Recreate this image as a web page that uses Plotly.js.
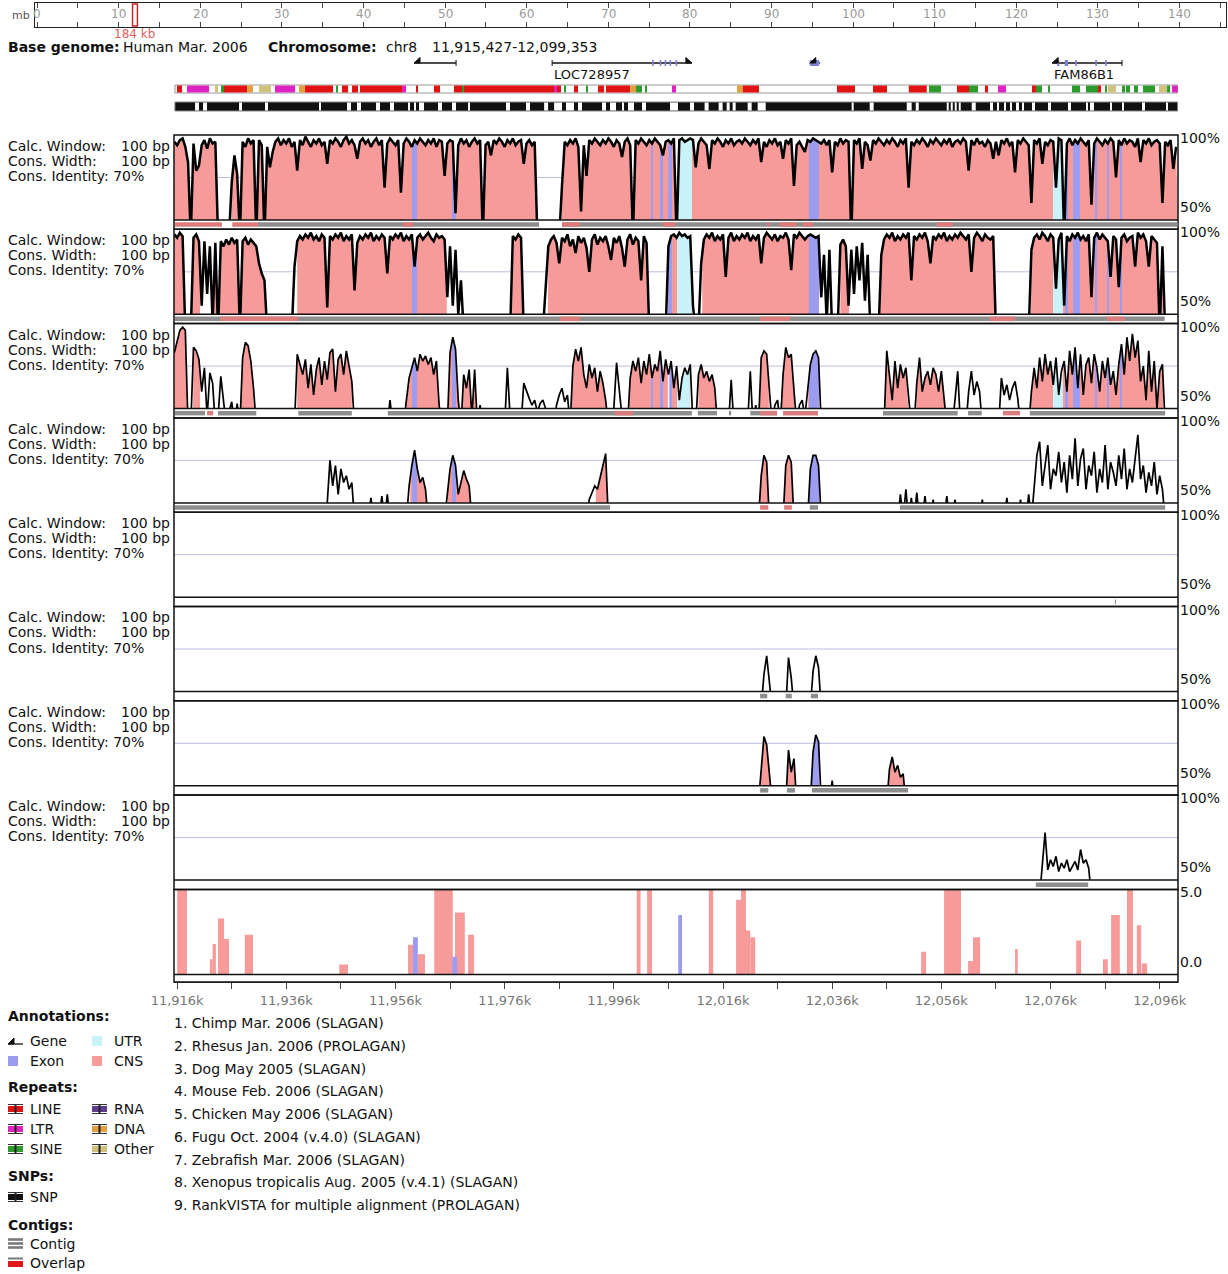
<!DOCTYPE html>
<html><head><meta charset="utf-8">
<script src="https://cdn.plot.ly/plotly-3.0.1.min.js"></script>
<style>html,body{margin:0;padding:0;background:#fff;}#chart{width:1228px;height:1274px;}</style>
</head><body><div id="chart"></div>
<script>
// ===================== DATA =====================
const regionStartKb = 11915.427, regionEndKb = 12099.353;
const gridStep = 0.5;      // kb between conservation samples
const BELOW = 40;          // conservation below the 50% floor

// conservation runs: [startKb, values every 0.5 kb]
const cons1 = [[11915.5, [
96,94,97,98,93,84,40,95,79,82, 94,97,92,98,95,96,40,40,40,40,
40,72,88,77,40,96,93,98,95,97, 40,97,94,40,93,81,90,96,98,94,
97,95,98,93,96,79,97,94,99,96, 93,97,95,98,94,96,83,97,95,98,
96,93,97,99,95,97,94,86,96,98, 95,97,93,96,98,94,97,69,95,98,
96,94,97,66,95,98,96,93,97,95, 98,96,94,97,95,98,93,97,96,76,
95,97,96,54,94,98,95,97,93,96, 98,95,97,40,94,96,88,97,95,98,
96,93,97,95,98,94,96,97,83,95, 97,94,96,40,40,40,40,40,40,40,
40,40,70,96,94,97,95,98,93,55, 94,76,97,95,98,96,94,97,95,98,
96,93,97,95,87,96,98,94,40,97, 95,98,96,94,97,95,98,96,94,88,
96,97,95,98,40,97,98,96,97,98, 97,81,95,98,96,94,80,97,95,98,
96,93,97,95,98,94,96,97,95,98, 96,94,97,95,98,84,96,93,97,95,
98,94,96,86,97,95,98,70,94,96, 93,90,97,96,98,97,96,95,97,94,
97,78,96,94,98,95,97,96,40,97, 95,98,80,96,94,85,97,95,98,96,
94,97,95,98,96,93,97,95,98,69, 96,94,97,95,98,96,93,97,95,98,
96,94,97,95,98,93,96,97,95,98, 96,79,97,94,98,95,96,93,97,95,
86,96,88,97,95,98,94,96,78,97, 95,98,96,94,60,97,95,98,83,96,
94,97,96,69,98,97,40,95,98,94, 97,95,98,96,94,97,59,95,98,96,
94,97,95,98,96,75,97,94,98,95, 97,96,93,98,84,97,95,98,94,96,
97,95,60,96,94,97,80,93]]];

const cons2 = [[11915.5, [
97,95,98,96,40,40,40,95,97,93, 55,93,62,90,45,92,40,93,90,94,
91,95,92,94,40,93,95,91,94,92, 90,80,74,70,40,40,40,40,40,40,
40,40,40,40,78,93,96,94,97,95, 98,94,96,93,97,95,54,96,94,97,
95,98,93,96,94,97,64,92,96,94, 97,95,98,93,96,94,97,95,74,96,
94,97,95,98,93,96,94,97,78,95, 97,94,96,98,95,93,97,95,96,94,
60,90,55,88,50,70,40,40,40,40, 40,40,40,40,40,40,40,40,40,40,
40,40,40,40,96,94,97,95,40,40, 40,40,40,40,40,40,65,90,94,96,
92,80,95,93,97,90,94,86,96,92, 95,89,75,94,97,91,95,93,96,90,
82,95,92,96,89,78,94,97,91,95, 93,70,96,92,40,40,40,40,40,40,
40,90,96,97,95,98,96,97,95,96, 55,40,40,80,94,97,95,98,93,96,
94,97,72,95,98,93,96,94,97,95, 98,93,96,94,97,80,95,98,96,94,
97,93,96,95,98,94,76,97,95,98, 96,94,96,97,96,95,96,60,85,45,
88,40,40,40,91,94,90,55,88,62, 90,70,92,58,85,40,40,40,40,85,
94,97,95,98,93,96,94,97,95,98, 70,96,94,97,95,98,93,80,96,94,
97,95,98,93,96,94,97,95,98,96, 94,97,75,95,98,96,93,97,95,94,
96,40,40,40,40,40,40,40,40,40, 40,40,40,40,88,95,97,94,98,96,
93,97,95,65,94,98,55,96,93,97, 95,98,94,96,93,97,60,95,98,94,
97,95,93,72,96,94,66,95,97,93, 95,96,78,98,95,97,93,78,96,94,
92,40,90,40,40,40,40,40]]];

const cons3 = [[11915.5, [
83,90,96,98,96,40,40,86,84,79, 60,74,45,71,65,40,45,69,52,40,
48,54,40,53,40,80,89,87,78,62, 40,40,40,40,40,40,40,40,40,40,
40,40,40,40,40,82,76,70,79,62, 76,58,73,80,64,78,67,83,85,60,
79,82,70,84,75,66,40,40,40,40, 40,40,40,40,40,40,40,40,40,55,
40,40,40,40,40,55,68,74,80,72, 82,78,81,76,80,70,78,52,40,40,
40,83,92,85,55,40,70,62,73,45, 73,40,52,40,40,40,40,40,40,40,
40,40,74,45,40,40,40,40,65,60, 56,52,55,48,53,55,50,40,40,40,
52,58,62,54,58,40,75,85,78,86, 70,62,76,68,74,60,72,65,55,40,
40,50,77,60,45,50,40,68,78,72, 80,65,78,70,82,68,76,72,84,66,
79,70,78,62,75,55,68,74,70,76, 40,40,70,76,68,72,66,70,62,40,
40,40,40,40,67,40,40,40,40,40, 40,72,40,52,40,80,84,82,60,40,
52,55,40,70,86,80,82,62,40,52, 55,45,60,76,82,84,80,40,40,40,
40,40,40,40,40,40,40,40,40,40, 40,40,40,40,40,40,40,40,40,40,
40,84,70,55,78,62,76,68,74,55, 40,40,65,80,60,68,72,64,74,70,
60,72,55,40,40,40,55,72,40,40, 40,60,72,58,66,60,40,40,40,40,
40,40,40,68,58,64,55,62,66,56, 40,40,40,40,60,74,62,80,66,82,
70,78,64,80,58,72,78,60,84,70, 86,62,82,58,76,80,65,82,74,60,
78,68,80,64,72,58,76,88,70,92, 78,94,80,90,66,75,55,84,60,78,
50,72,76,40,40,40,40,40]]];

const cons4 = [
[11943.0, [40,50,75,60,72,55,70,62,66,58,62,40]],
[11951.0, [40,53,40]],
[11953.0, [40,54,40,55,40]],
[11958.0, [40,60,72,81,70,62,65,58,40]],
[11965.0, [40,55,70,78,72,55,62,69,64,60,40]],
[11991.0, [40,52,56,60,58,65,72,79,40]],
[12022.5, [40,66,78,74,40]],
[12027.0, [40,72,78,74,40]],
[12031.5, [40,70,78,78,72,40]],
[12048.0, [40,55,40,58,40,53,40,56,40,40,54,40,40,52,40,40,40,40,54,40,40,52,40]],
[12063.0, [40,52,40]],
[12067.5, [40,53,40]],
[12070.0, [40,52,40,40,55,40]],
[12072.5, [40,62,78,86,60,72,84,58,70,66,80,62,74,56,78,64,88,60,76,82,58,72,66,80,56,70,
           62,84,58,74,68,60,78,64,82,58,70,62,76,90,64,72,56,68,60,74,55,66,58,40]]
];
const cons5 = [];
const cons6 = [
[12023.0, [40,60,71,52,40]],
[12027.5, [40,70,58,40]],
[12032.0, [40,62,71,64,40]]
];
const cons7 = [
[12022.5, [40,62,79,74,55,40]],
[12027.5, [40,71,58,66,40]],
[12032.0, [40,70,80,76,40]],
[12035.5, [40,53,40]],
[12046.0, [40,60,67,58,62,55,57,40]]
];
const cons8 = [
[12074.0, [40,58,78,56,62,58,64,55,60,57,62,55,58,61,56,68,60,62,57,40]]
];

// conserved (coloured) regions per panel, kb
const cns1 = [[11915.4,11924.1],[11926.0,11982.3],[11986.5,12099.4]];
const cns2 = [[11915.4,11917.4],[11918.7,11920.2],[11922.6,11932.5],[11938.0,11965.4],[11977.3,11979.5],
              [11983.9,12002.4],[12005.9,12010.3],[12012.2,12033.6],[12037.5,12039.1],[12044.8,12065.8],[12072.4,12096.6]];
const cns3 = [[11915.4,11917.8],[11918.9,11920.2],[11927.7,11930.1],[11938.0,11948.0],[11957.9,11964.2],
              [11965.8,11967.5],[11967.8,11970.8],[11988.3,11994.9],[11998.6,12005.9],[12006.2,12009.9],
              [12011.5,12015.0],[12022.6,12024.4],[12026.8,12029.0],[12031.6,12033.6],[12045.3,12050.1],[12051.4,12056.9],[12072.2,12096.6]];
const cns4 = [[11958.7,11962.0],[11965.6,11969.8],[11992.7,11995.1],[12022.8,12024.4],[12027.2,12028.8],[12031.6,12033.6]];
const cns5 = [];
const cns6 = [];
const cns7 = [[12022.4,12025.2],[12027.4,12029.6],[12031.6,12033.6],[12045.6,12050.2]];
const cns8 = [];

// gene annotation
const exons = [[11959.03,11959.95],[11966.36,11967.09],[12002.81,12003.18],[12004.46,12005.01],[12005.93,12006.66],
               [12031.74,12033.57],[12078.65,12079.20],[12080.12,12081.40],[12084.15,12084.52],[12086.34,12086.71],[12088.72,12089.09]];
const utrs = [[12007.58,12010.32],[12076.45,12078.28]];
const geneName   = ['', 'LOC728957', '', 'FAM86B1'];
const geneStart  = [11959.4, 11984.7, 12031.9, 12076.3];
const geneEnd    = [11967.1, 12010.3, 12033.8, 12089.1];
const geneStrand = ['-', '+', '-', '-'];
// exon ticks drawn on the gene track: [gene index, start, end]
const geneExons = [[1,12003.0,12003.3],[1,12004.4,12004.7],[1,12005.3,12005.6],[1,12006.2,12006.5],[1,12007.3,12007.6],
                   [2,12031.9,12033.6],
                   [3,12077.2,12077.6],[3,12078.6,12079.2],[3,12080.5,12080.8],[3,12084.2,12084.5],[3,12086.0,12086.3]];

// contigs per panel: [start, end, kind]  g = contig, r = overlap
const contig1 = [[11915.6,11924.2,'r'],[11926.1,11930.8,'r'],[11930.8,11982.3,'g'],[11957.4,11959.3,'r'],
                 [11986.5,12099.3,'g'],[11986.5,11989.8,'r'],[12005.0,12007.2,'r'],[12024.1,12024.6,'r'],
                 [12026.4,12029.5,'r'],[12030.7,12032.5,'r'],[12055.2,12058.1,'r']];
const contig2 = [[11915.6,12096.9,'g'],[11923.9,11938.2,'r'],[11986.1,11989.8,'r'],[12022.8,12028.3,'r'],
                 [12064.9,12069.5,'r'],[12086.3,12089.6,'r']];
const contig3 = [[11915.6,11921.1,'g'],[11921.5,11922.6,'r'],[11923.5,11930.5,'g'],[11938.2,11948.0,'g'],
                 [11954.6,12010.3,'g'],[11996.2,11999.5,'r'],[12011.4,12014.9,'g'],[12017.1,12017.5,'g'],
                 [12021.0,12025.9,'g'],[12022.8,12025.9,'r'],[12027.0,12033.4,'r'],[12045.3,12059.0,'g'],
                 [12060.9,12063.4,'g'],[12067.3,12070.4,'r'],[12072.2,12097.0,'g']];
const contig4 = [[11915.6,11995.3,'g'],[12022.8,12024.3,'r'],[12027.2,12028.6,'r'],[12031.9,12033.4,'g'],[12048.4,12097.0,'g']];
const contig5 = [[12087.8,12088.0,'g']];
const contig6 = [[12022.8,12024.1,'g'],[12027.5,12028.6,'g'],[12032.1,12033.4,'g']];
const contig7 = [[12022.8,12024.3,'g'],[12027.7,12029.2,'g'],[12032.3,12049.9,'g']];
const contig8 = [[12073.3,12082.9,'g']];

// RankVISTA bars
const rankStart = [11916.0,11922.0,11922.5,11923.5,11924.6,11928.4,11945.7,11958.3,11959.2,11960.1,11963.1,11966.9,11966.4,11969.3,
                   12000.2,12002.1,12007.8,12013.4,12018.4,12019.3,12020.0,12021.0,12052.3,12056.5,12060.9,12061.8,12069.5,
                   12080.7,12085.6,12087.1,12090.0,12091.8,12092.7];
const rankEnd   = [11917.8,11922.5,11923.1,11924.6,11925.5,11929.9,11947.3,11959.2,11960.1,11961.4,11966.5,11968.7,11967.3,11970.4,
                   12000.9,12003.0,12008.5,12014.2,12019.7,12020.2,12021.0,12021.9,12053.2,12059.6,12061.8,12063.1,12070.0,
                   12081.6,12086.5,12088.7,12091.1,12092.6,12093.7];
const rankValue = [5,0.9,1.8,3.3,2.1,2.35,0.6,1.75,2.2,1.2,5,3.65,1.05,2.35,5,5,3.5,5,4.4,5,2.6,2.2,1.35,5,0.8,2.2,1.5,2.0,0.9,3.5,5,2.9,0.65];
const rankKind  = ['c','c','c','c','c','c','c','c','e','c','c','c','e','c','c','c','e','c','c','c','c','c','c','c','c','c','c','c','c','c','c','c','c'];

// repeats and SNP coverage gaps
const repeats = [
[11915.98,11916.90,'LINE'],[11917.81,11921.84,'LTR'],[11922.94,11923.49,'Other'],[11924.04,11924.59,'SINE'],
[11924.59,11928.80,'LINE'],[11928.80,11929.90,'DNA'],[11931.00,11933.20,'Other'],[11933.93,11937.60,'LTR'],
[11938.33,11939.43,'DNA'],[11939.43,11944.56,'LINE'],[11945.11,11945.47,'SINE'],[11946.20,11947.31,'LINE'],
[11948.04,11949.14,'LINE'],[11949.50,11957.20,'LINE'],[11957.20,11957.93,'LTR'],[11959.76,11960.13,'LINE'],
[11963.06,11964.16,'LINE'],[11966.72,11968.19,'LINE'],[11968.19,11968.56,'SINE'],[11968.56,11985.04,'LINE'],
[11985.04,11985.59,'LTR'],[11985.59,11986.32,'LINE'],[11986.87,11987.24,'SINE'],[11988.71,11989.44,'LINE'],
[11990.91,11991.27,'SINE'],[11993.11,11994.21,'LINE'],[11994.57,11998.97,'LINE'],[11998.97,12000.07,'DNA'],
[12000.07,12001.16,'SINE'],[12001.71,12002.08,'SINE'],[12006.66,12007.39,'LTR'],[12018.56,12019.66,'DNA'],
[12019.66,12022.59,'LINE'],[12036.88,12040.18,'LINE'],[12043.48,12046.04,'LINE'],[12050.03,12053.33,'LINE'],
[12053.73,12055.93,'SINE'],[12058.87,12061.07,'LINE'],[12061.07,12062.72,'SINE'],[12063.99,12064.54,'LINE'],
[12066.38,12067.84,'LTR'],[12072.61,12073.33,'LINE'],[12073.33,12074.43,'SINE'],[12075.54,12075.90,'SINE'],
[12079.93,12081.40,'SINE'],[12082.50,12084.70,'SINE'],[12084.70,12085.25,'LINE'],[12085.98,12086.34,'SINE'],
[12086.52,12087.99,'Other'],[12089.09,12089.64,'SINE'],[12089.82,12090.56,'SINE'],[12091.29,12092.03,'SINE'],
[12092.95,12095.15,'SINE'],[12095.88,12097.35,'Other'],[12097.35,12097.90,'SINE'],[12098.26,12099.30,'LTR']];
const snpGaps = [
[11919.28,11920.01],[11920.74,11921.48],[11927.34,11927.89],[11932.10,11932.65],[11941.99,11942.36],[11947.12,11947.85],
[11948.95,11949.69],[11952.43,11953.17],[11955.00,11955.73],[11958.30,11958.66],[11959.40,11959.76],[11960.31,11961.23],
[11963.79,11964.52],[11966.36,11967.09],[11969.29,11969.65],[11976.25,11976.98],[11979.91,11980.65],[11983.23,11983.96],
[11985.06,11986.51],[11987.24,11988.71],[11989.44,11990.17],[11993.84,11994.57],[11995.30,11996.40],[11997.50,11997.86],
[11998.60,11999.70],[12001.16,12001.90],[12006.29,12007.76],[12009.96,12010.69],[12012.63,12013.37],[12015.20,12015.93],
[12016.67,12017.22],[12017.77,12018.32],[12020.52,12021.25],[12022.35,12023.82],[12039.57,12039.94],[12042.87,12043.60],
[12049.66,12050.56],[12051.31,12051.86],[12056.99,12057.35],[12057.72,12058.09],[12058.45,12058.82],[12059.19,12059.55],
[12061.57,12062.30],[12064.91,12065.46],[12066.19,12066.56],[12067.48,12067.84],[12068.58,12068.94],[12069.67,12070.22],
[12070.77,12071.14],[12072.61,12073.16],[12075.54,12076.09],[12079.20,12079.75],[12082.50,12082.86],[12083.23,12083.96],
[12086.89,12087.26],[12089.09,12089.46],[12092.76,12093.31],[12097.16,12097.52]];

// axis / ruler ticks
const axisTickKb = [11916,11926,11936,11946,11956,11966,11976,11986,11996,12006,12016,12026,12036,12046,12056,12066,12076,12086,12096];
const axisTickText = ['11,916k','','11,936k','','11,956k','','11,976k','','11,996k','','12,016k','','12,036k','','12,056k','','12,076k','','12,096k'];
const rulerTicksMb = [0,5,10,15,20,25,30,35,40,45,50,55,60,65,70,75,80,85,90,95,100,105,110,115,120,125,130,135,140,145];
const rulerLabelsMb = [0,10,20,30,40,50,60,70,80,90,100,110,120,130,140];

// texts
const baseGenome = 'Human Mar. 2006';
const chromosome = 'chr8';
const calcWindow = '100 bp', consWidth = '100 bp', consIdentity = '70%';
const speciesList = ['1. Chimp Mar. 2006 (SLAGAN)','2. Rhesus Jan. 2006 (PROLAGAN)','3. Dog May 2005 (SLAGAN)',
  '4. Mouse Feb. 2006 (SLAGAN)','5. Chicken May 2006 (SLAGAN)','6. Fugu Oct. 2004 (v.4.0) (SLAGAN)',
  '7. Zebrafish Mar. 2006 (SLAGAN)','8. Xenopus tropicalis Aug. 2005 (v.4.1) (SLAGAN)','9. RankVISTA for multiple alignment (PROLAGAN)'];

// ===================== DRAWING =====================
const W = 1228, H = 1274;
const fx = p => p / W, fy = p => 1 - p / H;
const X0 = 174, X1 = 1178;
const PINK = '#f79a9a', BLUE = '#9c9cf0', CYAN = '#c9f3f9';
const repColor = {LINE:'#e01212', LTR:'#e022c4', SINE:'#2e9a2e', DNA:'#e3a040', Other:'#cfc27e', RNA:'#5c3c8c'};
const contigColor = {g:'#8e8e8e', r:'#dd7c7c'};

const consPanels = [cons1,cons2,cons3,cons4,cons5,cons6,cons7,cons8];
const cnsPanels = [cns1,cns2,cns3,cns4,cns5,cns6,cns7,cns8];
const contigPanels = [contig1,contig2,contig3,contig4,contig5,contig6,contig7,contig8];
const PT = [], PB = [];
for (let i = 0; i < 8; i++) { PT.push(135 + 94.3 * i); PB.push(135 + 94.3 * i + 85); }
const RT = 889.6, RB = 974.6, AXY = 982;

const traces = [], shapes = [], annotations = [];
const txt = (x, y, text, o = {}) => annotations.push(Object.assign({xref:'paper', yref:'paper', x:fx(x), y:fy(y), text,
  showarrow:false, xanchor:'left', yanchor:'middle', font:{size:14, color:'#111'}}, o));
const rectPx = (x0, y0, x1, y1, o) => shapes.push(Object.assign({type:'rect', xref:'paper', yref:'paper',
  x0:fx(x0), x1:fx(x1), y0:fy(y1), y1:fy(y0), line:{width:0}}, o));
const lineFrom = (x0, y0, x1, y1, color, w) => shapes.push({type:'line', xref:'paper', yref:'paper',
  x0:fx(x0), x1:fx(x1), y0:fy(y0), y1:fy(y1), line:{color, width:w}});

function valueAt(runs, x) {
  for (const [s, vals] of runs) {
    const e = s + gridStep * (vals.length - 1);
    if (x >= s && x <= e) {
      const f = (x - s) / gridStep, j = Math.floor(f);
      if (j >= vals.length - 1) return vals[vals.length - 1];
      const t = f - j; return vals[j] * (1 - t) + vals[j + 1] * t;
    }
  }
  return BELOW;
}
function intersect(A, B) {
  const out = [];
  A.forEach(([a, b]) => B.forEach(([c, d]) => { const s = Math.max(a, c), e = Math.min(b, d); if (e > s) out.push([s, e]); }));
  return out;
}
function buildFill(runs, regions) {
  const xs = [], ys = [];
  regions.forEach(([a, b]) => {
    if (xs.length) { xs.push(null); ys.push(null); }
    xs.push(a, a); ys.push(BELOW, valueAt(runs, a));
    runs.forEach(([s, vals]) => vals.forEach((v, j) => { const x = s + gridStep * j; if (x > a && x < b) { xs.push(x); ys.push(v); } }));
    xs.push(b, b); ys.push(valueAt(runs, b), BELOW);
  });
  return {xs, ys};
}
function expand(runs) {
  const xs = [], ys = [];
  runs.forEach(([s, vals], k) => {
    if (k) { xs.push(null); ys.push(null); }
    vals.forEach((v, j) => { xs.push(s + gridStep * j); ys.push(v); });
  });
  return {xs, ys};
}

const layout = {
  width: W, height: H, margin:{l:0, r:0, t:0, b:0}, showlegend:false, hovermode:false,
  paper_bgcolor:'#fff', plot_bgcolor:'rgba(0,0,0,0)', font:{family:'DejaVu Sans', size:14, color:'#111'},
  xaxis: {domain:[fx(X0), fx(X1)], range:[regionStartKb, regionEndKb], anchor:'free', position:fy(AXY),
          showline:true, linecolor:'#444', linewidth:1, ticks:'outside', ticklen:6, tickcolor:'#444',
          tickvals:axisTickKb, ticktext:axisTickText, tickfont:{size:13, color:'#777'},
          showgrid:false, zeroline:false, fixedrange:true},
  xaxis2: {domain:[fx(35), fx(1226)], range:[-0.245, 145.7], anchor:'y', showline:true, mirror:'allticks',
           linecolor:'#222', linewidth:1.2, ticks:'inside', ticklen:5, tickcolor:'#444', tickvals:rulerTicksMb,
           showticklabels:false, showgrid:false, zeroline:false, fixedrange:true},
  yaxis: {domain:[fy(27), fy(3)], range:[0, 1], anchor:'x2', showline:true, mirror:true, linecolor:'#222', linewidth:1.2,
          ticks:'', showticklabels:false, showgrid:false, zeroline:false, fixedrange:true}
};
const hiddenY = (d, r) => ({domain:d, range:r, anchor:'x', showline:false, ticks:'', showticklabels:false,
  showgrid:false, zeroline:false, fixedrange:true});

// ---- ruler
traces.push({type:'scatter', x:[0], y:[0.5], xaxis:'x2', yaxis:'y', mode:'markers', marker:{opacity:0}});
rulerLabelsMb.forEach(v => annotations.push({xref:'x2', yref:'paper', x:v, y:fy(14.5), text:String(v), showarrow:false,
  xanchor:'center', yanchor:'middle', font:{size:12, color:'#9a9a9a'}}));
txt(10, 15, 'mb', {font:{size:11, color:'#555'}});
const markMb = (regionStartKb + regionEndKb) / 2000;
shapes.push({type:'rect', xref:'x2', yref:'paper', x0:markMb - 0.3, x1:markMb + 0.3, y0:fy(26), y1:fy(4),
  line:{color:'#cc2a2a', width:1.5}, fillcolor:'rgba(0,0,0,0)'});
annotations.push({xref:'x2', yref:'paper', x:markMb, y:fy(34), text:Math.round(regionEndKb - regionStartKb) + ' kb',
  showarrow:false, xanchor:'center', yanchor:'middle', font:{size:12, color:'#e06060'}});

// ---- header
txt(6, 47, '<b>Base genome:</b>');
txt(121, 47, baseGenome);
txt(266, 47, '<b>Chromosome:</b>');
txt(384, 47, chromosome);
txt(430, 47, Math.round(regionStartKb * 1000).toLocaleString('en-US') + '-' + Math.round(regionEndKb * 1000).toLocaleString('en-US'));

// ---- gene track
const GY = 63, AH = 1.1;
geneStart.forEach((s, k) => {
  const e = geneEnd[k];
  shapes.push({type:'line', xref:'x', yref:'paper', x0:s, x1:e, y0:fy(GY), y1:fy(GY), line:{color:'#111', width:1.3}});
  geneExons.forEach(([g, a, b]) => { if (g === k) shapes.push({type:'rect', xref:'x', yref:'paper', x0:a, x1:b,
    y0:fy(66), y1:fy(60), fillcolor:'#8080d8', line:{width:0}}); });
  const tail = geneStrand[k] === '-' ? e : s;
  if (e - s > 3) shapes.push({type:'line', xref:'x', yref:'paper', x0:tail, x1:tail, y0:fy(66), y1:fy(60), line:{color:'#111', width:1}});
  const tip = geneStrand[k] === '-' ? s : e, back = geneStrand[k] === '-' ? s + AH : e - AH;
  shapes.push({type:'path', xref:'x', yref:'paper', path:`M ${tip},${fy(GY)} L ${back},${fy(GY)} L ${back},${fy(GY - 5.5)} Z`,
    fillcolor:'#111', line:{color:'#111', width:1}});
  if (geneName[k]) annotations.push({xref:'x', yref:'paper', x:s, y:fy(74), text:geneName[k], showarrow:false,
    xanchor:'left', yanchor:'middle', font:{size:13, color:'#111'}});
});

// ---- repeats bar
shapes.push({type:'rect', xref:'x', yref:'paper', x0:11915.6, x1:12099.3, y0:fy(93), y1:fy(85), fillcolor:'#fff', line:{color:'#999', width:1}});
repeats.forEach(([a, b, t]) => shapes.push({type:'rect', xref:'x', yref:'paper', x0:a, x1:b, y0:fy(92.5), y1:fy(85.5),
  fillcolor:repColor[t], line:{width:0}}));
// ---- SNP bar
shapes.push({type:'rect', xref:'x', yref:'paper', x0:11915.6, x1:12099.3, y0:fy(111), y1:fy(102), fillcolor:'#111', line:{color:'#888', width:1}});
snpGaps.forEach(([a, b]) => shapes.push({type:'rect', xref:'x', yref:'paper', x0:a, x1:b, y0:fy(110.5), y1:fy(102.5),
  fillcolor:'#fff', line:{width:0}}));

// ---- conservation panels
for (let i = 0; i < 8; i++) {
  const ya = 'y' + (i + 2);
  layout['yaxis' + (i + 2)] = hiddenY([fy(PB[i]), fy(PT[i])], [50, 100]);
  const runs = consPanels[i], cns = cnsPanels[i];
  shapes.push({type:'line', xref:'paper', yref:ya, x0:fx(X0), x1:fx(X1), y0:75, y1:75, line:{color:'#b9bfe6', width:1}, layer:'below'});
  const fills = [[cns, PINK], [intersect(exons, cns), BLUE], [intersect(utrs, cns), CYAN]];
  fills.forEach(([reg, col]) => {
    if (!reg.length || !runs.length) return;
    const f = buildFill(runs, reg);
    traces.push({type:'scatter', x:f.xs, y:f.ys, xaxis:'x', yaxis:ya, mode:'lines', fill:'toself', fillcolor:col,
      line:{width:0, color:col}});
  });
  const l = expand(runs);
  traces.push({type:'scatter', x:l.xs.length ? l.xs : [regionStartKb], y:l.ys.length ? l.ys : [BELOW], xaxis:'x', yaxis:ya,
    mode:'lines', line:{color:'#000', width:i < 2 ? 2.5 : 1.7}});
  // frame
  rectPx(X0, PT[i], X1, PT[i] + 94.3, {line:{color:'#111', width:1.5}, fillcolor:'rgba(0,0,0,0)'});
  lineFrom(X0, PB[i], X1, PB[i], '#111', 1.5);
  contigPanels[i].forEach(([a, b, k]) => shapes.push({type:'rect', xref:'x', yref:'paper', x0:a, x1:b,
    y0:fy(PB[i] + 6.8), y1:fy(PB[i] + 2.3), fillcolor:contigColor[k], line:{width:0}}));
  // labels
  txt(6, PT[i] + 11, 'Calc. Window:'); txt(119, PT[i] + 11, calcWindow);
  txt(6, PT[i] + 26, 'Cons. Width:');  txt(119, PT[i] + 26, consWidth);
  txt(6, PT[i] + 41, 'Cons. Identity: ' + consIdentity);
  txt(1178, PT[i] + 3, '100%');
  txt(1178, PB[i] - 13, '50%');
}

// ---- RankVISTA
layout.yaxis10 = hiddenY([fy(RB), fy(RT)], [0, 5]);
traces.push({type:'bar', x:rankStart.map((s, k) => (s + rankEnd[k]) / 2), width:rankStart.map((s, k) => rankEnd[k] - s),
  y:rankValue, xaxis:'x', yaxis:'y10', marker:{color:rankKind.map(k => k === 'e' ? BLUE : PINK), line:{width:0}}});
rectPx(X0, RT, X1, AXY, {line:{color:'#111', width:1.5}, fillcolor:'rgba(0,0,0,0)'});
lineFrom(X0, RB, X1, RB, '#111', 1.5);
txt(1178, RT + 2, '5.0');
txt(1178, RB - 13, '0.0');

// ---- legend
txt(6, 1016, '<b>Annotations:</b>');
shapes.push({type:'line', xref:'paper', yref:'paper', x0:fx(8), x1:fx(23), y0:fy(1044), y1:fy(1044), line:{color:'#111', width:1.3}});
shapes.push({type:'path', xref:'paper', yref:'paper', path:`M ${fx(8)},${fy(1044)} L ${fx(14)},${fy(1044)} L ${fx(14)},${fy(1038)} Z`,
  fillcolor:'#111', line:{color:'#111', width:1}});
txt(28, 1041, 'Gene');
rectPx(92, 1036, 102, 1046, {fillcolor:CYAN}); txt(112, 1041, 'UTR');
rectPx(8, 1056, 18, 1066, {fillcolor:BLUE}); txt(28, 1061, 'Exon');
rectPx(92, 1056, 102, 1066, {fillcolor:PINK}); txt(112, 1061, 'CNS');
txt(6, 1087, '<b>Repeats:</b>');
function ibeam(x, yc, color) {
  rectPx(x, yc - 3, x + 15, yc + 3, {fillcolor:color});
  lineFrom(x, yc - 4.5, x + 15, yc - 4.5, '#333', 1);
  lineFrom(x, yc + 4.5, x + 15, yc + 4.5, '#333', 1);
  lineFrom(x + 7.5, yc - 4.5, x + 7.5, yc + 4.5, '#222', 2);
}
const repLegend = [['LINE', 8, 1109], ['LTR', 8, 1129], ['SINE', 8, 1149], ['RNA', 92, 1109], ['DNA', 92, 1129], ['Other', 92, 1149]];
repLegend.forEach(([t, x, y]) => { ibeam(x, y, repColor[t]); txt(x + 20, y, t); });
txt(6, 1176, '<b>SNPs:</b>');
ibeam(8, 1197, '#111'); txt(28, 1197, 'SNP');
txt(6, 1225, '<b>Contigs:</b>');
[1239.5, 1243.5, 1247.5].forEach(y => rectPx(8, y - 1.3, 23, y + 1.3, {fillcolor:'#7a7a7a'}));
txt(28, 1244, 'Contig');
rectPx(8, 1257.5, 23, 1259.5, {fillcolor:'#7a7a7a'});
rectPx(8, 1261, 23, 1267, {fillcolor:'#e01818'});
txt(28, 1263, 'Overlap');
speciesList.forEach((s, k) => txt(172, 1023 + 22.75 * k, s));

layout.shapes = shapes;
layout.annotations = annotations;
Plotly.newPlot('chart', traces, layout, {staticPlot:true, displayModeBar:false});
</script></body></html>
